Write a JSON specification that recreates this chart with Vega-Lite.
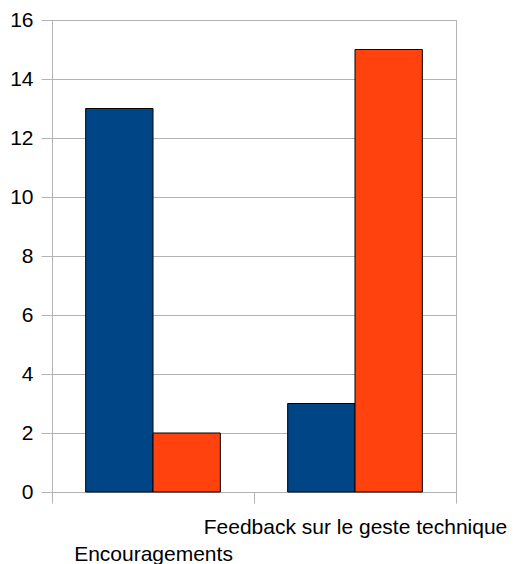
{
  "$schema": "https://vega.github.io/schema/vega-lite/v6.json",
  "width": 404,
  "height": 472,
  "autosize": "none",
  "padding": {"left": 52, "top": 20, "right": 59, "bottom": 72},
  "background": "white",
  "config": {
    "view": {"stroke": "#b3b3b3", "strokeWidth": 1},
    "font": "Liberation Sans"
  },
  "data": {
    "values": [
      {"category": "Encouragements", "series": "A", "value": 13},
      {"category": "Encouragements", "series": "B", "value": 2},
      {"category": "Feedback sur le geste technique", "series": "A", "value": 3},
      {"category": "Feedback sur le geste technique", "series": "B", "value": 15}
    ]
  },
  "mark": {"type": "bar", "stroke": "black", "strokeWidth": 1},
  "encoding": {
    "x": {
      "field": "category",
      "type": "nominal",
      "scale": {"paddingInner": 0, "paddingOuter": 0},
      "axis": {
        "title": null,
        "labelAngle": 0,
        "labelFont": "Liberation Sans",
        "labelFontSize": 21,
        "labelColor": "black",
        "labelPadding": 13,
        "labelBaseline": "top",
        "labelLineHeight": 27,
        "labelOverlap": false,
        "labelBound": false,
        "labelLimit": 0,
        "labelExpr": "datum.value == 'Encouragements' ? ['', datum.label] : datum.label",
        "domain": false,
        "grid": false,
        "ticks": true,
        "tickBand": "extent",
        "tickSize": 11,
        "tickColor": "#b3b3b3"
      }
    },
    "xOffset": {
      "field": "series",
      "type": "nominal",
      "scale": {"paddingInner": 0, "paddingOuter": 0.5}
    },
    "y": {
      "field": "value",
      "type": "quantitative",
      "scale": {"domain": [0, 16], "nice": false},
      "axis": {
        "title": null,
        "values": [0, 2, 4, 6, 8, 10, 12, 14, 16],
        "labelFont": "Liberation Sans",
        "labelFontSize": 21,
        "labelColor": "black",
        "labelPadding": 8,
        "domain": false,
        "grid": true,
        "gridColor": "#b3b3b3",
        "tickColor": "#b3b3b3",
        "tickSize": 11
      }
    },
    "color": {
      "field": "series",
      "type": "nominal",
      "scale": {"domain": ["A", "B"], "range": ["#004586", "#ff420e"]},
      "legend": null
    }
  }
}
